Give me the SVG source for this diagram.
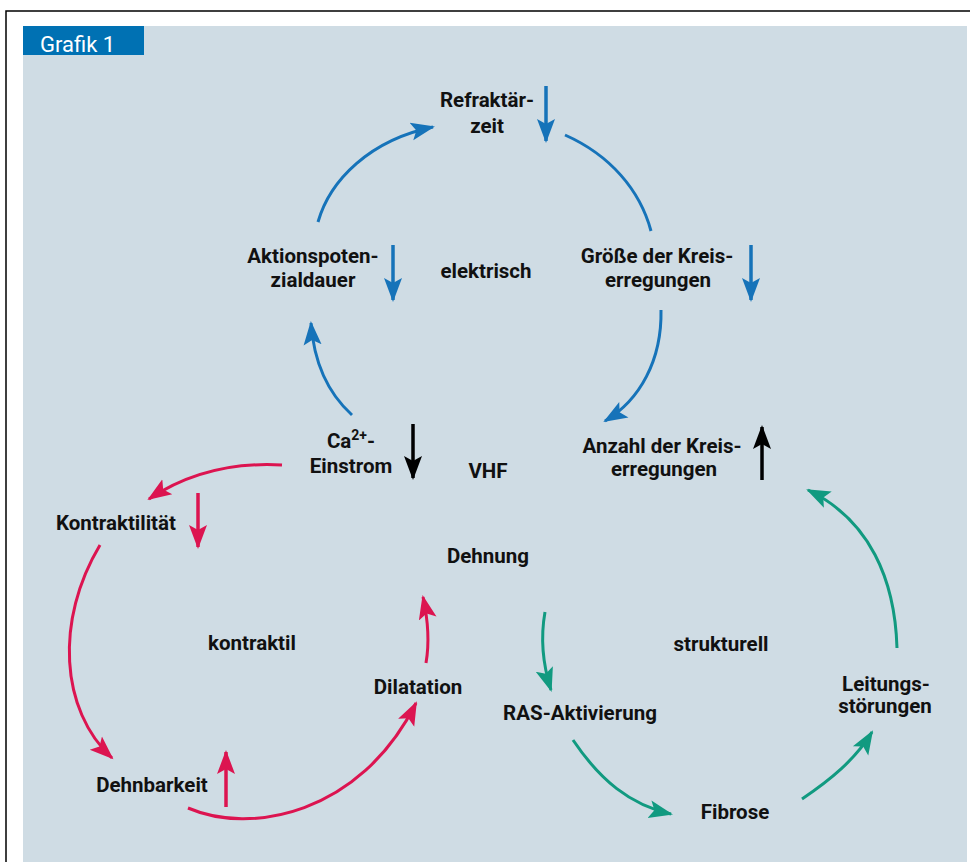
<svg xmlns="http://www.w3.org/2000/svg" width="970" height="862" viewBox="0 0 970 862">
<style>
.t{font-family:Roboto,"Liberation Sans",sans-serif;font-weight:bold;font-size:20.5px;fill:#111;text-anchor:middle}
.c{fill:none;stroke-width:3}
.s{fill:none;stroke-width:3.5}
.b{stroke:#1673b9}.r{stroke:#dc1450}.g{stroke:#119a80}.k{stroke:#000}
</style>
<defs>
<marker id="mb" markerUnits="userSpaceOnUse" markerWidth="28" markerHeight="22" viewBox="0 -11 28 22" refX="22" refY="0" orient="auto"><path d="M0,-9 L24,0 L0,9 L5,0 Z" fill="#1673b9"/></marker>
<marker id="mr" markerUnits="userSpaceOnUse" markerWidth="28" markerHeight="22" viewBox="0 -11 28 22" refX="22" refY="0" orient="auto"><path d="M0,-9 L24,0 L0,9 L5,0 Z" fill="#dc1450"/></marker>
<marker id="mg" markerUnits="userSpaceOnUse" markerWidth="28" markerHeight="22" viewBox="0 -11 28 22" refX="22" refY="0" orient="auto"><path d="M0,-9 L24,0 L0,9 L5,0 Z" fill="#119a80"/></marker>
<marker id="mk" markerUnits="userSpaceOnUse" markerWidth="28" markerHeight="22" viewBox="0 -11 28 22" refX="22" refY="0" orient="auto"><path d="M0,-9 L24,0 L0,9 L5,0 Z" fill="#000"/></marker>
</defs>
<rect width="970" height="862" fill="#fff"/>
<path d="M6,862 V11 H970" fill="none" stroke="#000" stroke-width="1.5"/>
<rect x="23" y="26" width="944" height="836" fill="#cfdce4"/>
<g id="header">
<rect x="23" y="26" width="121" height="29" fill="#0071b3"/>
<text x="40" y="52" font-family="Roboto,'Liberation Sans',sans-serif" font-size="22" fill="#fff">Grafik 1</text>
</g>
<g id="connectors">
<path class="c b" d="M318,222 C330,180 370,140 433,127" marker-end="url(#mb)"/>
<path class="c b" d="M565,135 C610,155 640,190 651,231"/>
<path class="c b" d="M661,310 C662,360 640,400 605,421" marker-end="url(#mb)"/>
<path class="c b" d="M352,415 C330,395 314,365 311,323" marker-end="url(#mb)"/>
<path class="c r" d="M282,465 C230,462 185,475 149,499" marker-end="url(#mr)"/>
<path class="c r" d="M100,545 C55,620 60,710 112,758" marker-end="url(#mr)"/>
<path class="c r" d="M188,808 C250,835 360,815 416,703" marker-end="url(#mr)"/>
<path class="c r" d="M426,663 C430,640 428,620 423,597" marker-end="url(#mr)"/>
<path class="c g" d="M545,612 C540,640 543,665 551,690" marker-end="url(#mg)"/>
<path class="c g" d="M573,740 C600,780 630,805 671,814" marker-end="url(#mg)"/>
<path class="c g" d="M802,799 C830,780 855,760 872,732" marker-end="url(#mg)"/>
<path class="c g" d="M897,648 C895,580 870,520 808,490" marker-end="url(#mg)"/>
<path class="s b" d="M546,86 V141" marker-end="url(#mb)"/>
<path class="s b" d="M393,245 V300" marker-end="url(#mb)"/>
<path class="s b" d="M751,245 V300" marker-end="url(#mb)"/>
<path class="s k" d="M413,424 V478" marker-end="url(#mk)"/>
<path class="s k" d="M762,480 V427" marker-end="url(#mk)"/>
<path class="s r" d="M198,493 V547" marker-end="url(#mr)"/>
<path class="s r" d="M226,807 V752" marker-end="url(#mr)"/>
</g>
<g id="refraktaerzeit"><text class="t" x="487" y="107">Refraktär-</text><text class="t" x="487" y="133">zeit</text></g>
<g id="aktionspotentialdauer"><text class="t" x="313" y="263">Aktionspoten-</text><text class="t" x="313" y="287">zialdauer</text></g>
<g id="elektrisch"><text class="t" x="486" y="278">elektrisch</text></g>
<g id="groesse"><text class="t" x="657" y="263">Größe der Kreis-</text><text class="t" x="658" y="287">erregungen</text></g>
<g id="ca"><text class="t" x="351" y="448">Ca<tspan font-size="14" dy="-8">2+</tspan><tspan dy="8">-</tspan></text><text class="t" x="351" y="473">Einstrom</text></g>
<g id="vhf"><text class="t" x="488" y="478">VHF</text></g>
<g id="anzahl"><text class="t" x="662" y="453">Anzahl der Kreis-</text><text class="t" x="664" y="476">erregungen</text></g>
<g id="kontraktilitaet"><text class="t" x="116" y="530">Kontraktilität</text></g>
<g id="dehnung"><text class="t" x="488" y="563">Dehnung</text></g>
<g id="kontraktil"><text class="t" x="252" y="650">kontraktil</text></g>
<g id="strukturell"><text class="t" x="721" y="651">strukturell</text></g>
<g id="dilatation"><text class="t" x="418" y="694">Dilatation</text></g>
<g id="ras"><text class="t" x="580" y="720">RAS-Aktivierung</text></g>
<g id="leitung"><text class="t" x="886" y="691">Leitungs-</text><text class="t" x="885" y="713">störungen</text></g>
<g id="dehnbarkeit"><text class="t" x="152" y="792">Dehnbarkeit</text></g>
<g id="fibrose"><text class="t" x="735" y="819">Fibrose</text></g>
</svg>
